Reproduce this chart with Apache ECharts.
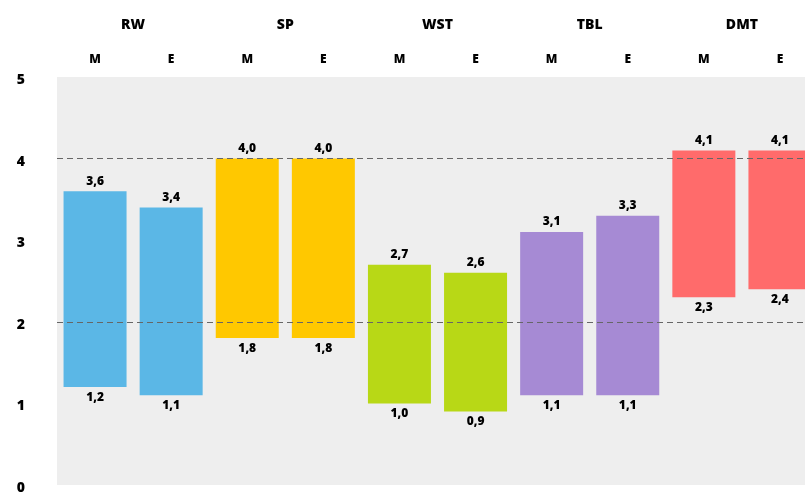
<!DOCTYPE html>
<html>
<head>
<meta charset="utf-8">
<script src="https://cdn.jsdelivr.net/npm/echarts@6/dist/echarts.min.js"></script>
<style>
html,body{margin:0;padding:0;background:#fff;overflow:hidden;}
#chart{width:805px;height:496px;}
</style>
</head>
<body>
<div id="chart"></div>
<script>
const groups = ['RW', 'SP', 'WST', 'TBL', 'DMT'];
const subCategories = ['M', 'E', 'M', 'E', 'M', 'E', 'M', 'E', 'M', 'E'];
const lows  = [1.2, 1.1, 1.8, 1.8, 1.0, 0.9, 1.1, 1.1, 2.3, 2.4];
const highs = [3.6, 3.4, 4.0, 4.0, 2.7, 2.6, 3.1, 3.3, 4.1, 4.1];
const groupColors = ['#5BB7E6', '#FFC800', '#B8D816', '#A68AD4', '#FF6B6B'];
const yTicks = [0, 1, 2, 3, 4, 5];
const refLines = [2, 4];

const fmt = v => v.toFixed(1).replace('.', ',');
const font = '"Open Sans", "DejaVu Sans", sans-serif';

const chart = echarts.init(document.getElementById('chart'), null, {renderer: 'canvas'});
chart.setOption({
  animation: false,
  grid: {left: 57, width: 761, top: 77, height: 408, show: true, backgroundColor: '#EEEEEE', borderWidth: 0,
    containLabel: false, outerBoundsMode: 'none'},
  xAxis: [
    {
      type: 'category', data: subCategories, position: 'top',
      axisLine: {show: false}, axisTick: {show: false},
      axisLabel: {margin: 11, fontFamily: font, fontWeight: 800, fontSize: 12, color: '#000'}
    },
    {
      type: 'category', data: groups, position: 'top', offset: 35,
      axisLine: {show: false}, axisTick: {show: false},
      axisLabel: {margin: 10, fontFamily: font, fontWeight: 800, fontSize: 14, color: '#000'}
    }
  ],
  yAxis: {
    type: 'value', min: yTicks[0], max: yTicks[yTicks.length - 1], interval: 1,
    axisLine: {show: false}, axisTick: {show: false}, splitLine: {show: false},
    axisLabel: {margin: 32, fontFamily: font, fontWeight: 800, fontSize: 14, color: '#000', align: 'right', verticalAlign: 'top', padding: [-4, 0, 0, 0]}
  },
  series: [
    {
      type: 'bar', stack: 'r', xAxisIndex: 0, barWidth: 63,
      data: lows,
      itemStyle: {color: 'rgba(0,0,0,0)'},
      label: {show: true, position: 'insideTop', distance: 4, fontFamily: font, fontWeight: 800, fontSize: 12, color: '#000',
        formatter: p => fmt(lows[p.dataIndex])},
      markLine: {
        silent: true, symbol: 'none', label: {show: false},
        lineStyle: {color: '#666', type: [6, 4], width: 1},
        data: refLines.map(v => ({yAxis: v}))
      },
      z: 2
    },
    {
      type: 'bar', stack: 'r', xAxisIndex: 0, barWidth: 63,
      data: highs.map((h, i) => ({value: h - lows[i], itemStyle: {color: groupColors[Math.floor(i / 2)]}})),
      label: {show: true, position: 'top', distance: 4, fontFamily: font, fontWeight: 800, fontSize: 12, color: '#000',
        formatter: p => fmt(highs[p.dataIndex])},
      z: 3
    }
  ]
});
</script>
</body>
</html>
